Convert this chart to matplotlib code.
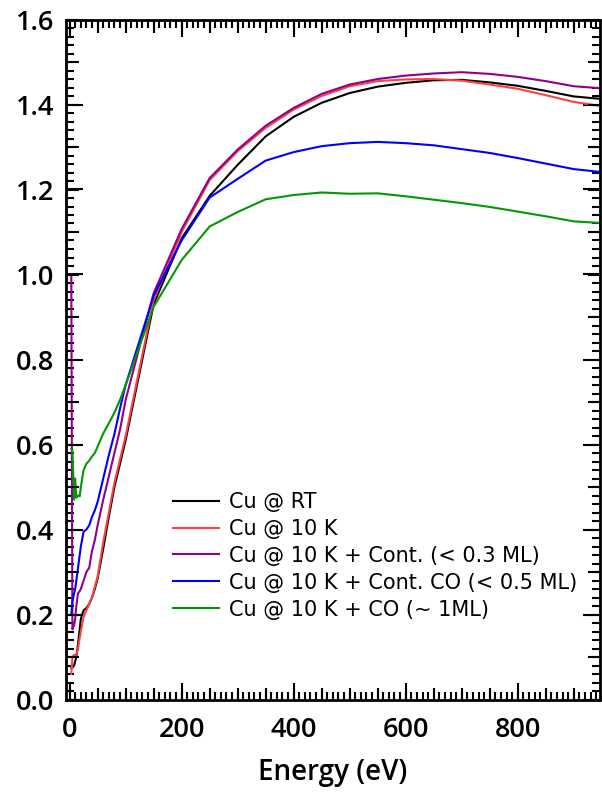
import matplotlib
matplotlib.use("Agg")
import matplotlib.pyplot as plt
from matplotlib.ticker import MultipleLocator

plt.rcParams['font.family'] = ['Open Sans', 'DejaVu Sans']

# photon energy grid (eV) shared by all spectra
energy = [3, 5, 8, 10, 12, 15, 18, 20, 25, 30, 35, 40, 45, 50, 60, 70, 80, 90, 100,
          150, 200, 250, 300, 350, 400, 450, 500, 550, 600, 650, 700, 750, 800, 850, 900, 950]

cu_rt = [0.075, 0.075, 0.08, 0.09, 0.10, 0.13, 0.165, 0.19, 0.21, 0.215, 0.225, 0.24, 0.26, 0.285,
         0.355, 0.43, 0.50, 0.555, 0.61,
         0.93, 1.085, 1.185, 1.258, 1.325, 1.371, 1.404, 1.427, 1.442, 1.451, 1.457, 1.458,
         1.452, 1.444, 1.432, 1.419, 1.413]
cu_10k = [0.06, 0.10, 0.105, 0.10, 0.105, 0.12, 0.145, 0.16, 0.195, 0.21, 0.225, 0.24, 0.265, 0.29,
          0.37, 0.44, 0.51, 0.565, 0.62,
          0.94, 1.10, 1.222, 1.29, 1.345, 1.388, 1.42, 1.443, 1.455, 1.459, 1.460, 1.456,
          1.447, 1.437, 1.422, 1.406, 1.396]
cu_10k_cont = [1.0, 0.165, 0.175, 0.19, 0.22, 0.25, 0.255, 0.26, 0.28, 0.30, 0.31, 0.35, 0.375, 0.41,
               0.47, 0.525, 0.58, 0.635, 0.705,
               0.956, 1.107, 1.227, 1.294, 1.35, 1.392, 1.425, 1.447, 1.460, 1.468, 1.473, 1.476,
               1.472, 1.465, 1.455, 1.443, 1.438]
cu_10k_cont_co = [0.20, 0.23, 0.25, 0.26, 0.28, 0.31, 0.34, 0.36, 0.395, 0.40, 0.41, 0.43, 0.445, 0.465,
                  0.52, 0.575, 0.625, 0.685, 0.74,
                  0.95, 1.08, 1.181, 1.225, 1.268, 1.288, 1.302, 1.309, 1.312, 1.309, 1.304, 1.295,
                  1.286, 1.274, 1.261, 1.248, 1.241]
cu_10k_co = [0.59, 0.585, 0.47, 0.52, 0.475, 0.48, 0.478, 0.50, 0.54, 0.555, 0.562, 0.572, 0.58, 0.595,
             0.626, 0.65, 0.675, 0.705, 0.74,
             0.924, 1.034, 1.113, 1.147, 1.177, 1.187, 1.193, 1.190, 1.191, 1.184, 1.176, 1.168,
             1.159, 1.148, 1.137, 1.125, 1.121]

series = [
    (cu_rt, 'Cu @ RT', 'black'),
    (cu_10k, 'Cu @ 10 K', '#ff4040'),
    (cu_10k_cont, 'Cu @ 10 K + Cont. (< 0.3 ML)', '#900090'),
    (cu_10k_cont_co, 'Cu @ 10 K + Cont. CO (< 0.5 ML)', '#0000ff'),
    (cu_10k_co, 'Cu @ 10 K + CO (~ 1ML)', '#009900'),
]

xlim = (-7, 946)
ylim = (0, 1.6)

fig = plt.figure(figsize=(6.02, 7.94), dpi=100)
pos = [65.7 / 602, 1 - 699.5 / 794, (599.5 - 65.7) / 602, (699.5 - 19.5) / 794]
ax = fig.add_axes(pos)

for vals, label, color in series:
    ax.plot(energy, vals, color=color, lw=1.5, label=label)

ax.set_xlim(*xlim)
ax.set_ylim(*ylim)
ax.xaxis.set_major_locator(MultipleLocator(200))
ax.xaxis.set_minor_locator(MultipleLocator(10))
ax.yaxis.set_major_locator(MultipleLocator(0.2))
ax.yaxis.set_minor_locator(MultipleLocator(0.02))
ax.yaxis.set_major_formatter(lambda v, p: f'{v:.1f}')
ax.tick_params(which='both', direction='in', top=True, right=True, width=1.5, labelsize=19.5)
ax.tick_params(which='major', length=12)
ax.tick_params(which='minor', length=5.8)
ax.tick_params(axis='x', pad=12)
ax.tick_params(axis='y', pad=8)
for lbl in ax.get_xticklabels() + ax.get_yticklabels():
    lbl.set_fontweight('semibold')
for s in ax.spines.values():
    s.set_linewidth(2)
ax.set_xlabel('Energy (eV)', fontsize=20, fontweight='semibold', labelpad=10)

# intermediate ticks every 50 eV / 0.1 on a transparent overlay
mid = fig.add_axes(pos, frameon=False)
mid.set_xlim(*xlim)
mid.set_ylim(*ylim)
mid.xaxis.set_major_locator(MultipleLocator(50))
mid.yaxis.set_major_locator(MultipleLocator(0.1))
mid.tick_params(direction='in', length=9, width=1.5, top=True, right=True,
                labelbottom=False, labelleft=False)
mid.patch.set_visible(False)

ax.legend(loc='upper left', bbox_to_anchor=(173 / 602, 1 - 492 / 794),
          bbox_transform=fig.transFigure, frameon=False,
          prop={'family': 'DejaVu Sans', 'size': 15},
          handlelength=2.2, handletextpad=0.5, labelspacing=0.33,
          borderpad=0, borderaxespad=0)

fig.savefig('out.png', dpi=100)
